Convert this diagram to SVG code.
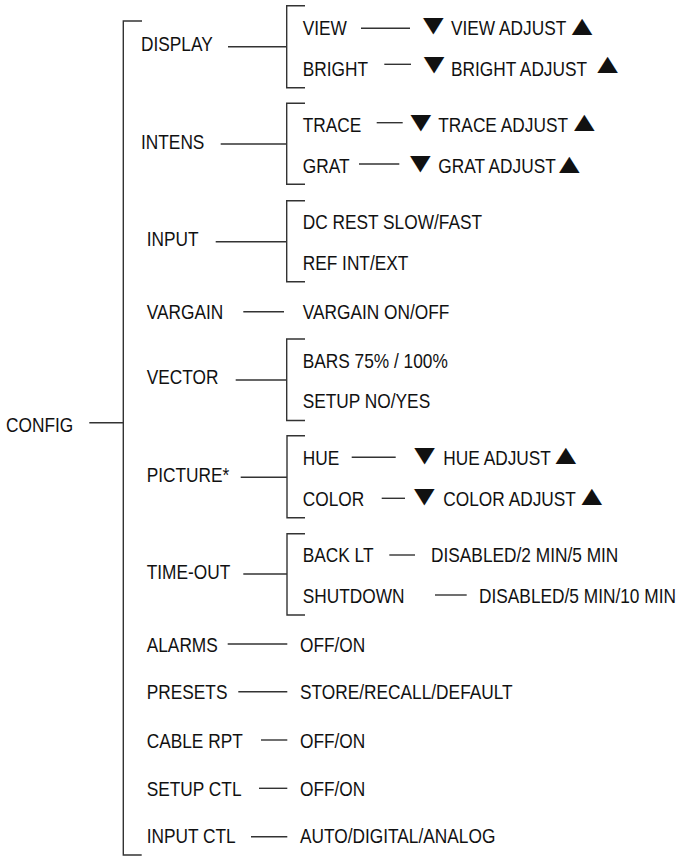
<svg xmlns="http://www.w3.org/2000/svg" width="681" height="856" viewBox="0 0 681 856">
<style>
.t{font-family:"Liberation Sans",Arial,Helvetica,sans-serif;font-size:20px;fill:#111}
.tri{font-family:"Liberation Sans","DejaVu Sans",sans-serif;font-size:20px;fill:#111;text-anchor:middle}
.c line,.c path{stroke:#333;stroke-width:1.4;fill:none}
</style>
<rect width="681" height="856" fill="#fff"/>
<g class="c" id="connectors">
<path d="M142 21 H123.3 V855 H141.7"/>
<line x1="89.3" y1="422.7" x2="123.3" y2="422.7"/>
<line x1="228" y1="46.7" x2="286.7" y2="46.7"/>
<path d="M305 5.7 H286.7 V87.7 H305"/>
<line x1="361" y1="28.3" x2="410" y2="28.3"/>
<line x1="384.3" y1="64.3" x2="411" y2="64.3"/>
<line x1="220.7" y1="144" x2="286.7" y2="144"/>
<path d="M305 103.3 H286.7 V184.3 H305"/>
<line x1="376.7" y1="122.7" x2="402.7" y2="122.7"/>
<line x1="359" y1="164" x2="399.3" y2="164"/>
<line x1="215.7" y1="241.7" x2="286.7" y2="241.7"/>
<path d="M305 200.7 H286.7 V281.7 H305"/>
<line x1="243.3" y1="311.7" x2="284" y2="311.7"/>
<line x1="235.7" y1="380" x2="286.7" y2="380"/>
<path d="M305 339 H286.7 V420.5 H305"/>
<line x1="240.7" y1="477.3" x2="287" y2="477.3"/>
<path d="M305 435.7 H287 V517.7 H305"/>
<line x1="351.7" y1="457.3" x2="395.7" y2="457.3"/>
<line x1="381.7" y1="498.3" x2="405" y2="498.3"/>
<line x1="243.3" y1="574" x2="287" y2="574"/>
<path d="M305 533.7 H287 V615 H305"/>
<line x1="389.3" y1="555" x2="415" y2="555"/>
<line x1="435" y1="595" x2="466.7" y2="595"/>
<line x1="227.7" y1="644" x2="287.3" y2="644"/>
<line x1="238.3" y1="691.7" x2="287.3" y2="691.7"/>
<line x1="261" y1="740" x2="287.3" y2="740"/>
<line x1="259" y1="788.3" x2="287.3" y2="788.3"/>
<line x1="251" y1="836.7" x2="287.3" y2="836.7"/>
</g>
<g id="config"><text class="t" transform="translate(6 432.3) scale(0.865 1)">CONFIG</text></g>
<g id="display"><text class="t" transform="translate(141 50.7) scale(0.865 1)">DISPLAY</text></g>
<g id="view"><text class="t" transform="translate(302.7 35) scale(0.865 1)">VIEW</text></g>
<g id="view-adjust"><text class="tri" transform="translate(433.3 34) scale(1.75 1.4)">▼</text><text class="t" transform="translate(451 35) scale(0.865 1)">VIEW ADJUST</text><text class="tri" transform="translate(582 34.5) scale(1.75 1.4)">▲</text></g>
<g id="bright"><text class="t" transform="translate(302.7 76) scale(0.865 1)">BRIGHT</text></g>
<g id="bright-adjust"><text class="tri" transform="translate(434 73) scale(1.75 1.4)">▼</text><text class="t" transform="translate(451 76) scale(0.865 1)">BRIGHT ADJUST</text><text class="tri" transform="translate(607.5 73) scale(1.75 1.4)">▲</text></g>
<g id="intens"><text class="t" transform="translate(141 149) scale(0.865 1)">INTENS</text></g>
<g id="trace"><text class="t" transform="translate(302.7 131.7) scale(0.865 1)">TRACE</text></g>
<g id="trace-adjust"><text class="tri" transform="translate(420.7 130.7) scale(1.75 1.4)">▼</text><text class="t" transform="translate(438.3 131.7) scale(0.865 1)">TRACE ADJUST</text><text class="tri" transform="translate(584.2 131) scale(1.75 1.4)">▲</text></g>
<g id="grat"><text class="t" transform="translate(302.7 173.3) scale(0.865 1)">GRAT</text></g>
<g id="grat-adjust"><text class="tri" transform="translate(420.3 172.3) scale(1.75 1.4)">▼</text><text class="t" transform="translate(438.3 173.3) scale(0.865 1)">GRAT ADJUST</text><text class="tri" transform="translate(569.2 172.5) scale(1.75 1.4)">▲</text></g>
<g id="input"><text class="t" transform="translate(146.7 245.7) scale(0.865 1)">INPUT</text></g>
<g id="dc-rest"><text class="t" transform="translate(302.7 229) scale(0.865 1)">DC REST SLOW/FAST</text></g>
<g id="ref"><text class="t" transform="translate(302.7 270) scale(0.865 1)">REF INT/EXT</text></g>
<g id="vargain"><text class="t" transform="translate(146.7 319) scale(0.865 1)">VARGAIN</text></g>
<g id="vargain-onoff"><text class="t" transform="translate(302.7 319) scale(0.865 1)">VARGAIN ON/OFF</text></g>
<g id="vector"><text class="t" transform="translate(146.7 384.3) scale(0.865 1)">VECTOR</text></g>
<g id="bars"><text class="t" transform="translate(302.7 367.7) scale(0.865 1)">BARS 75% / 100%</text></g>
<g id="setup"><text class="t" transform="translate(302.7 408.3) scale(0.865 1)">SETUP NO/YES</text></g>
<g id="picture"><text class="t" transform="translate(146.7 481.7) scale(0.865 1)">PICTURE*</text></g>
<g id="hue"><text class="t" transform="translate(302.7 465) scale(0.865 1)">HUE</text></g>
<g id="hue-adjust"><text class="tri" transform="translate(424.5 464) scale(1.75 1.4)">▼</text><text class="t" transform="translate(443.3 465) scale(0.865 1)">HUE ADJUST</text><text class="tri" transform="translate(565.8 464.3) scale(1.75 1.4)">▲</text></g>
<g id="color"><text class="t" transform="translate(302.7 506) scale(0.865 1)">COLOR</text></g>
<g id="color-adjust"><text class="tri" transform="translate(424.3 505) scale(1.75 1.4)">▼</text><text class="t" transform="translate(443.3 506) scale(0.865 1)">COLOR ADJUST</text><text class="tri" transform="translate(591.7 505.3) scale(1.75 1.4)">▲</text></g>
<g id="time-out"><text class="t" transform="translate(146.7 579.3) scale(0.865 1)">TIME-OUT</text></g>
<g id="back-lt"><text class="t" transform="translate(302.7 561.7) scale(0.865 1)">BACK LT</text></g>
<g id="back-lt-val"><text class="t" transform="translate(431 561.7) scale(0.865 1)">DISABLED/2 MIN/5 MIN</text></g>
<g id="shutdown"><text class="t" transform="translate(302.7 602.7) scale(0.865 1)">SHUTDOWN</text></g>
<g id="shutdown-val"><text class="t" transform="translate(479 602.7) scale(0.865 1)">DISABLED/5 MIN/10 MIN</text></g>
<g id="alarms"><text class="t" transform="translate(146.7 651.7) scale(0.865 1)">ALARMS</text></g>
<g id="alarms-val"><text class="t" transform="translate(300 651.7) scale(0.865 1)">OFF/ON</text></g>
<g id="presets"><text class="t" transform="translate(146.7 699.3) scale(0.865 1)">PRESETS</text></g>
<g id="presets-val"><text class="t" transform="translate(300 699.3) scale(0.865 1)">STORE/RECALL/DEFAULT</text></g>
<g id="cable-rpt"><text class="t" transform="translate(146.7 747.7) scale(0.865 1)">CABLE RPT</text></g>
<g id="cable-rpt-val"><text class="t" transform="translate(300 747.7) scale(0.865 1)">OFF/ON</text></g>
<g id="setup-ctl"><text class="t" transform="translate(146.7 795.7) scale(0.865 1)">SETUP CTL</text></g>
<g id="setup-ctl-val"><text class="t" transform="translate(300 795.7) scale(0.865 1)">OFF/ON</text></g>
<g id="input-ctl"><text class="t" transform="translate(146.7 843.3) scale(0.865 1)">INPUT CTL</text></g>
<g id="input-ctl-val"><text class="t" transform="translate(300 843.3) scale(0.865 1)">AUTO/DIGITAL/ANALOG</text></g>
</svg>
